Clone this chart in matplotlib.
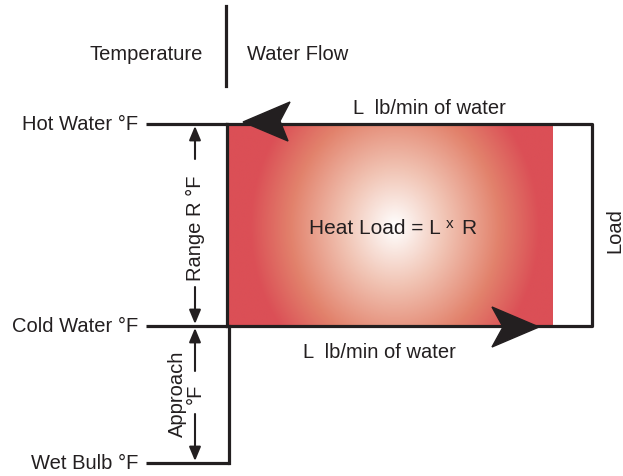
import matplotlib.pyplot as plt
import numpy as np
from matplotlib.patches import Polygon
from matplotlib.colors import LinearSegmentedColormap

plt.rcParams['font.family'] = ['Liberation Sans', 'DejaVu Sans']

# temperature levels (left side) and their heights on the diagram
levels = ["Hot Water °F", "Cold Water °F", "Wet Bulb °F"]
level_y = [125, 327, 464]
flow_label = "L  lb/min of water"
ink = "#231f20"
fs = 14.5

heat = LinearSegmentedColormap.from_list("heat", [
    (0.0, "#ffffff"), (0.35, "#f1c4b4"), (0.72, "#e2826c"), (1.0, "#db4f56")])

fig = plt.figure(figsize=(6.23, 4.77), dpi=100)
ax = fig.add_axes([0, 0, 1, 1])
ax.set_xlim(0, 623)
ax.set_ylim(477, 0)
ax.axis('off')

# heat load gradient (white centre -> red edges)
x0, x1 = 227, 553
ya, yb = level_y[0], level_y[1]
gx = np.linspace(x0, x1, 400)
gy = np.linspace(ya, yb, 250)
X, Y = np.meshgrid(gx, gy)
cx, cy = 395, 228
r = np.sqrt(((X - cx) / 145) ** 2 + ((Y - cy) / 165) ** 2)
ax.imshow(np.clip(r, 0, 1), cmap=heat, vmin=0, vmax=1,
          extent=(x0, x1, yb, ya), origin='upper', aspect='auto', zorder=1)

lw = 2.3
# box around flow
ax.plot([227, 592, 592, 227], [ya, ya, yb, yb], color=ink, lw=lw, zorder=3)
ax.plot([227, 227], [ya, yb], color=ink, lw=lw, zorder=3)
ax.plot([229, 229], [yb, level_y[2]], color=ink, lw=lw, zorder=3)

# level lines and labels
for name, y in zip(levels, level_y):
    xe = 229 if y == level_y[2] else 227
    ax.plot([146, xe], [y, y], color=ink, lw=lw, zorder=3, solid_capstyle='butt')
    ax.text(138, y, name, ha='right', va='center', fontsize=fs, color=ink)

# big flow arrows
ax.add_patch(Polygon([[243, 123], [290, 103], [280, 122], [288, 142]],
                     closed=True, color=ink, zorder=4))
ax.add_patch(Polygon([[539, 328], [492, 308], [503, 328], [492, 348]],
                     closed=True, color=ink, zorder=4))
ax.text(353, 109, flow_label, ha='left', va='center', fontsize=fs, color=ink)
ax.text(303, 353, flow_label, ha='left', va='center', fontsize=fs, color=ink)

# header
ax.plot([226, 226], [7, 87], color=ink, lw=lw)
ax.text(203, 55, "Temperature", ha='right', va='center', fontsize=fs, color=ink)
ax.text(247, 55, "Water Flow", ha='left', va='center', fontsize=fs, color=ink)

# dimension arrows
astyle = dict(arrowstyle='-|>,head_length=0.6,head_width=0.25', color=ink,
              lw=1.5, mutation_scale=14, shrinkA=0, shrinkB=0)
ax.annotate("", xy=(195, 127), xytext=(195, 160), arrowprops=astyle)
ax.annotate("", xy=(195, 325), xytext=(195, 288), arrowprops=astyle)
ax.text(195, 228, "Range R °F", rotation=90, ha='center', va='center', fontsize=fs, color=ink)
ax.annotate("", xy=(195, 329), xytext=(195, 372), arrowprops=astyle)
ax.annotate("", xy=(195, 462), xytext=(195, 415), arrowprops=astyle)
ax.text(186, 394, "Approach\n°F", rotation=90, ha='center', va='center', fontsize=fs,
        color=ink, linespacing=0.9)

# heat load formula (small raised "x")
ax.text(441, 234, "Heat Load = L", ha='right', va='baseline', fontsize=15, color=ink, zorder=5)
ax.text(450, 228, "x", ha='center', va='baseline', fontsize=11, color=ink, zorder=5)
ax.text(461, 234, "R", ha='left', va='baseline', fontsize=15, color=ink, zorder=5)
ax.text(615, 231, "Load", rotation=90, ha='center', va='center', fontsize=fs, color=ink)

fig.savefig("out.png", dpi=100)
